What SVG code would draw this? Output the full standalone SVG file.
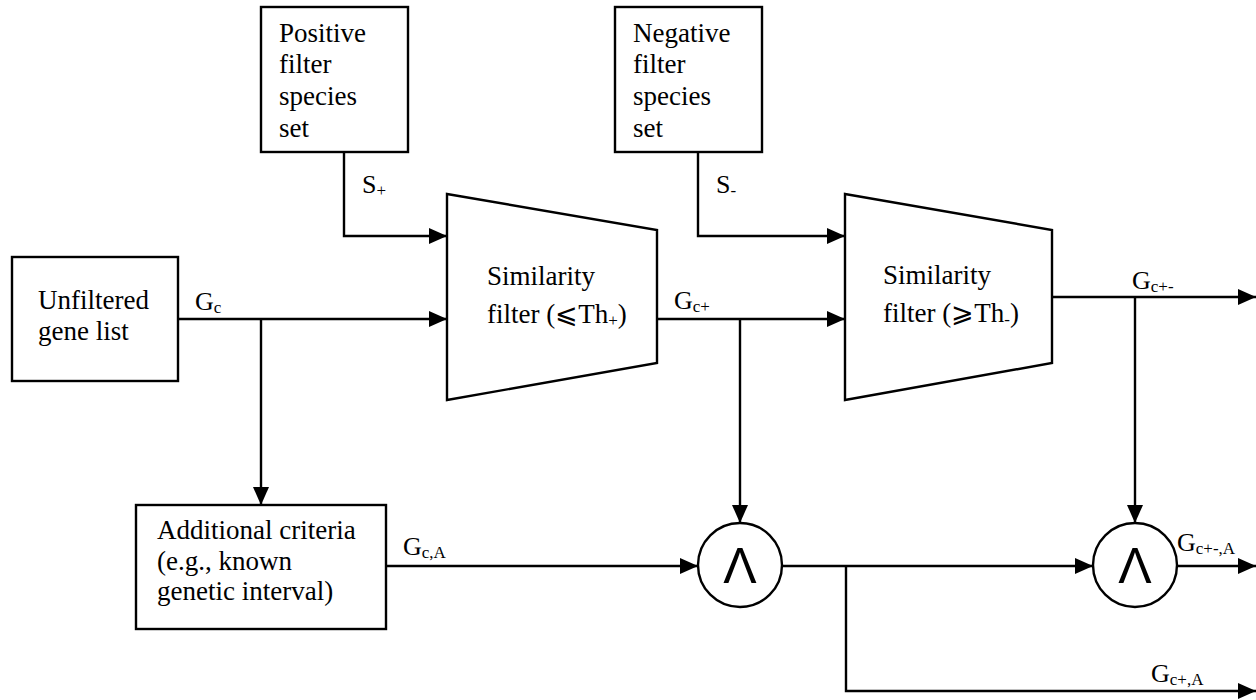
<svg xmlns="http://www.w3.org/2000/svg" width="1256" height="700" viewBox="0 0 1256 700">
<style>
.box{fill:#fff;stroke:#000;stroke-width:2.4}
.ln{fill:none;stroke:#000;stroke-width:2.4}
text{font-family:"Liberation Serif","Times New Roman",serif;font-size:27px;fill:#000}
.lbl{font-size:26px}
.sub{font-size:17px}
.and{font-family:"Liberation Sans",Arial,sans-serif;font-size:50px}
</style>
<defs>
<marker id="ah" markerWidth="18" markerHeight="16" refX="18" refY="8" orient="auto" markerUnits="userSpaceOnUse">
<path d="M0,0 L18,8 L0,16 Z" fill="#000"/>
</marker>
</defs>
<rect width="1256" height="700" fill="#fff"/>
<g id="connectors">
<path class="ln" d="M344,152 V236 H447" marker-end="url(#ah)"/>
<path class="ln" d="M698,152 V236 H845" marker-end="url(#ah)"/>
<path class="ln" d="M178,319 H447" marker-end="url(#ah)"/>
<path class="ln" d="M261,319 V505" marker-end="url(#ah)"/>
<path class="ln" d="M657,319 H845" marker-end="url(#ah)"/>
<path class="ln" d="M740,319 V523" marker-end="url(#ah)"/>
<path class="ln" d="M1052,297 H1256" marker-end="url(#ah)"/>
<path class="ln" d="M1135,297 V523" marker-end="url(#ah)"/>
<path class="ln" d="M386,566 H698" marker-end="url(#ah)"/>
<path class="ln" d="M782,566 H1093" marker-end="url(#ah)"/>
<path class="ln" d="M846,566 V691 H1256" marker-end="url(#ah)"/>
<path class="ln" d="M1177,566 H1256" marker-end="url(#ah)"/>
<text class="lbl" x="362" y="193">S<tspan class="sub" dy="3">+</tspan></text>
<text class="lbl" x="716" y="193">S<tspan class="sub" dy="3">-</tspan></text>
<text class="lbl" x="195" y="310">G<tspan class="sub" dy="3">c</tspan></text>
<text class="lbl" x="674" y="309">G<tspan class="sub" dy="3">c+</tspan></text>
<text class="lbl" x="1132" y="289">G<tspan class="sub" dy="3">c+-</tspan></text>
<text class="lbl" x="403" y="555">G<tspan class="sub" dy="3">c,A</tspan></text>
<text class="lbl" x="1177" y="551">G<tspan class="sub" dy="3">c+-,A</tspan></text>
<text class="lbl" x="1151" y="682">G<tspan class="sub" dy="3">c+,A</tspan></text>
</g>
<g id="positive-set">
<rect class="box" x="261" y="7" width="147" height="145"/>
<text x="279" y="42">Positive</text>
<text x="279" y="73">filter</text>
<text x="279" y="105">species</text>
<text x="279" y="137">set</text>
</g>
<g id="negative-set">
<rect class="box" x="615" y="7" width="147" height="145"/>
<text x="633" y="42">Negative</text>
<text x="633" y="73">filter</text>
<text x="633" y="105">species</text>
<text x="633" y="137">set</text>
</g>
<g id="unfiltered">
<rect class="box" x="12" y="257" width="166" height="124"/>
<text x="38" y="309">Unfiltered</text>
<text x="38" y="340">gene list</text>
</g>
<g id="filter-pos">
<path class="box" d="M447,194 L657,230 L657,363 L447,400 Z"/>
<text x="487" y="285">Similarity</text>
<text x="487" y="323">filter (⩽Th<tspan class="sub" dy="3">+</tspan><tspan dy="-3">)</tspan></text>
</g>
<g id="filter-neg">
<path class="box" d="M845,194 L1052,230 L1052,363 L845,400 Z"/>
<text x="883" y="284">Similarity</text>
<text x="883" y="322">filter (⩾Th<tspan class="sub" dy="3">-</tspan><tspan dy="-3">)</tspan></text>
</g>
<g id="additional">
<rect class="box" x="136" y="505" width="250" height="124"/>
<text x="157" y="539">Additional criteria</text>
<text x="157" y="570">(e.g., known</text>
<text x="157" y="600">genetic interval)</text>
</g>
<g id="and1">
<circle class="box" cx="740" cy="565" r="42"/>
<text class="and" x="740" y="583" text-anchor="middle">Λ</text>
</g>
<g id="and2">
<circle class="box" cx="1135" cy="565" r="42"/>
<text class="and" x="1135" y="583" text-anchor="middle">Λ</text>
</g>
</svg>
